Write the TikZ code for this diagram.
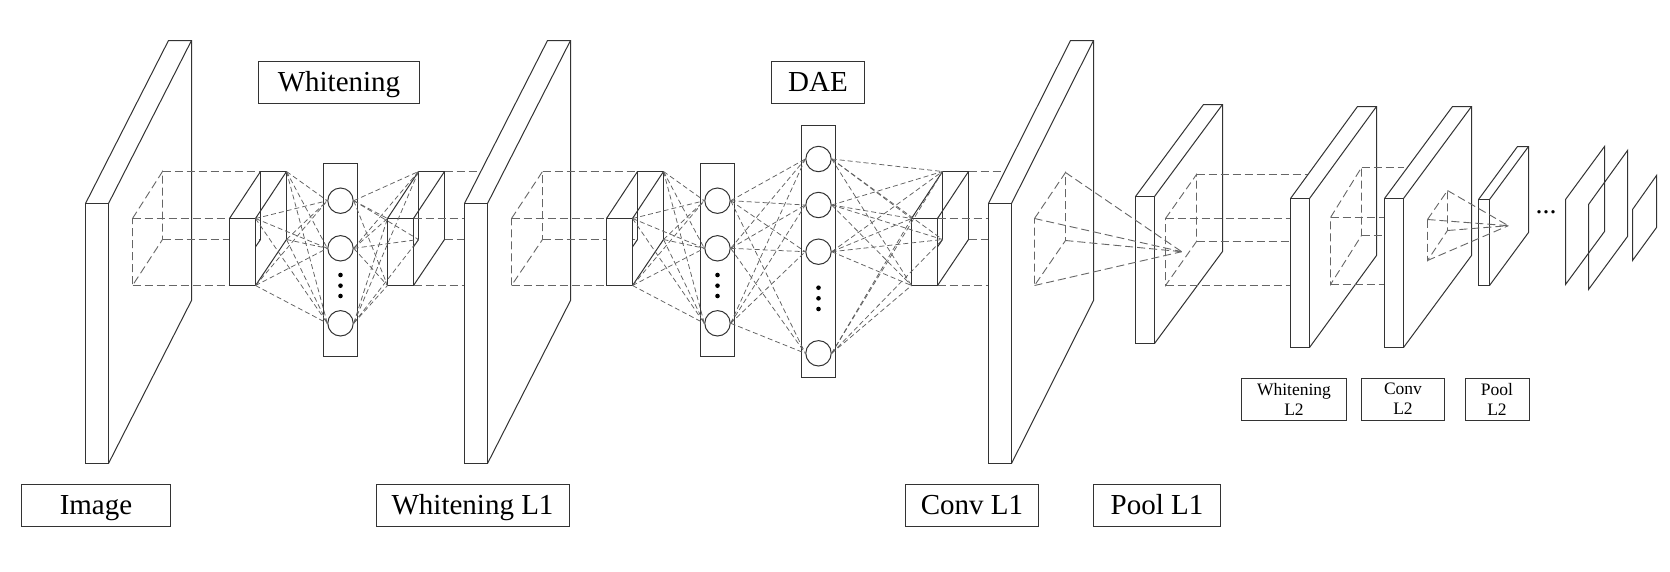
\documentclass[tikz,border=0pt]{standalone}
\usepackage{fontspec}
\setmainfont{Liberation Serif}
\usetikzlibrary{calc}
\tikzset{
  solidl/.style={draw=black!80, line width=1pt},
  dline/.style={draw=black!60, line width=0.9pt, dash pattern=on 8pt off 4pt},
  netl/.style={draw=black!62, line width=0.75pt, dash pattern=on 5pt off 3pt},
  neuron/.style={circle, draw=black!80, line width=1pt, fill=white, minimum size=25.4pt, inner sep=0pt},
  column/.style={rectangle, draw=black!80, line width=1pt, minimum width=34pt, inner sep=0pt},
  ndot/.style={circle, fill=black, inner sep=0pt, minimum size=4.6pt},
  bigl/.style={rectangle, draw=black!80, line width=1pt, inner sep=0pt, font=\fontsize{29}{34}\selectfont, text height=24pt, text depth=6.6pt, minimum height=42pt},
  smalll/.style={rectangle, draw=black!80, line width=1pt, inner sep=0pt, font=\fontsize{17.5}{20}\selectfont, align=center, minimum height=42pt}
}
\newcommand\mySlabDef[7]{%
  \coordinate (#1-ftl) at (#2,#4);
  \coordinate (#1-ftr) at (#3,#4);
  \coordinate (#1-fbl) at (#2,#5);
  \coordinate (#1-fbr) at (#3,#5);
  \coordinate (#1-btl) at (#2+#6,#4-#7);
  \coordinate (#1-btr) at (#3+#6,#4-#7);
  \coordinate (#1-bbr) at (#3+#6,#5-#7);
}
\newcommand\mySlabDraw[1]{%
  \fill[white] (#1-fbl) -- (#1-ftl) -- (#1-btl) -- (#1-btr) -- (#1-bbr) -- (#1-fbr) -- cycle;
  \draw[solidl] (#1-ftl) rectangle (#1-fbr);
  \draw[solidl] (#1-ftl) -- (#1-btl) -- (#1-btr) -- (#1-bbr) -- (#1-fbr);
  \draw[solidl] (#1-ftr) -- (#1-btr);
}
\newcommand\myCubeDef[2]{%
  \coordinate (#1-ftl) at (#2,218.5);
  \coordinate (#1-ftr) at (#2+26,218.5);
  \coordinate (#1-fbl) at (#2,285.5);
  \coordinate (#1-fbr) at (#2+26,285.5);
  \coordinate (#1-btl) at (#2+31,171.5);
  \coordinate (#1-btr) at (#2+57,171.5);
  \coordinate (#1-bbl) at (#2+31,239.5);
  \coordinate (#1-bbr) at (#2+57,239.5);
}
\newcommand\myCubeDraw[1]{%
  \draw[solidl] (#1-bbl) -- (#1-btl) -- (#1-btr) -- (#1-bbr);
  \draw[solidl] (#1-ftl) -- (#1-btl) (#1-ftr) -- (#1-btr) (#1-fbr) -- (#1-bbr) (#1-fbl) -- (#1-bbl);
  \filldraw[solidl, fill=white] (#1-ftl) rectangle (#1-fbr);
}
\newcommand\myPatch[7]{%
  \coordinate (#1-tl) at (#2,#4);
  \coordinate (#1-tr) at (#3,#5);
  \coordinate (#1-br) at (#3,#6);
  \coordinate (#1-bl) at (#2,#7);
  \draw[dline] (#1-tl) -- (#1-tr) -- (#1-br) -- (#1-bl) -- cycle;
}
\begin{document}
\begin{tikzpicture}[x=1pt,y=-1pt]
\useasboundingbox (0,0) rectangle (1670,571);
\fill[white] (0,0) rectangle (1670,571);

% slab coordinates
\mySlabDef{s1}{85.5}{108.5}{203.5}{463.5}{83}{163}
\mySlabDef{s2}{464.5}{487.5}{203.5}{463.5}{83}{163}
\mySlabDef{s3}{988.5}{1011.5}{203.5}{463.5}{82}{163}
\mySlabDef{s4}{1135.5}{1154.5}{196.5}{343.5}{68}{92}
\mySlabDef{s5}{1290.5}{1309.5}{198.5}{347.5}{67}{92}
\mySlabDef{s6}{1384.5}{1403.5}{198.5}{347.5}{68}{92}
\mySlabDef{s7}{1478.5}{1489.5}{199.5}{285.5}{39}{53}
\myCubeDef{cA}{229.5}
\myCubeDef{cB}{387.5}
\myCubeDef{cC}{606.5}
\myCubeDef{cD}{911.5}

% ---------- Image slab and whitening block ----------
\mySlabDraw{s1}
\myPatch{p1}{132.5}{162.5}{218.5}{171.5}{239.5}{285.5}
\draw[dline] (p1-tr) -- (cA-btl);
\draw[dline] (p1-tl) -- (cA-ftl);
\draw[dline] (p1-br) -- (cA-bbl);
\draw[dline] (p1-bl) -- (cA-fbl);
\myCubeDraw{cA}
\myCubeDraw{cB}

\node[column, minimum height=193pt] (wcol) at (340.5,260) {};
\node[neuron] (w1) at (340.5,200.7) {};
\node[neuron] (w2) at (340.5,248.3) {};
\node[neuron] (w3) at (340.5,323.3) {};
\node[ndot] (wd1) at (340.5,275) {};
\node[ndot] (wd2) at (340.5,285.7) {};
\node[ndot] (wd3) at (340.5,296) {};
\foreach \c in {cA-ftr,cA-fbr,cA-btr,cA-bbr}
  \foreach \n in {w1,w2,w3}
    \draw[netl] (\c) -- (\n.west);
\foreach \n in {w1,w2,w3}
  \foreach \c in {cB-ftl,cB-fbl,cB-btl,cB-bbl}
    \draw[netl] (\n.east) -- (\c);

\draw[dline] (cB-btr) -- (cB-btr -| s2-ftr);
\draw[dline] (cB-ftr) -- (cB-ftr -| s2-ftr);
\draw[dline] (cB-bbr) -- (cB-bbr -| s2-ftr);
\draw[dline] (cB-fbr) -- (cB-fbr -| s2-ftr);

% ---------- Whitening L1 slab and DAE block ----------
\mySlabDraw{s2}
\myPatch{p2}{511.5}{542.5}{218.5}{171.5}{239.5}{285.5}
\draw[dline] (p2-tr) -- (cC-btl);
\draw[dline] (p2-tl) -- (cC-ftl);
\draw[dline] (p2-br) -- (cC-bbl);
\draw[dline] (p2-bl) -- (cC-fbl);
\myCubeDraw{cC}
\myCubeDraw{cD}

\node[column, minimum height=193pt] (dcol) at (717.5,260) {};
\node[neuron] (d1) at (717.5,200.7) {};
\node[neuron] (d2) at (717.5,248.3) {};
\node[neuron] (d3) at (717.5,323.3) {};
\node[ndot] (dd1) at (717.5,275) {};
\node[ndot] (dd2) at (717.5,285.7) {};
\node[ndot] (dd3) at (717.5,296) {};

\node[column, minimum height=252pt] (hcol) at (818.5,251.5) {};
\node[neuron] (h1) at (818.5,159) {};
\node[neuron] (h2) at (818.5,205) {};
\node[neuron] (h3) at (818.5,251.7) {};
\node[neuron] (h4) at (818.5,353.3) {};
\node[ndot] (hd1) at (818.5,287.7) {};
\node[ndot] (hd2) at (818.5,298.3) {};
\node[ndot] (hd3) at (818.5,309) {};

\foreach \c in {cC-ftr,cC-fbr,cC-btr,cC-bbr}
  \foreach \n in {d1,d2,d3}
    \draw[netl] (\c) -- (\n.west);
\foreach \m in {d1,d2,d3}
  \foreach \n in {h1,h2,h3,h4}
    \draw[netl] (\m.east) -- (\n.west);
\foreach \n in {h1,h2,h3,h4}
  \foreach \c in {cD-ftl,cD-fbl,cD-btl,cD-bbl}
    \draw[netl] (\n.east) -- (\c);

\draw[dline] (cD-btr) -- (cD-btr -| s3-ftr);
\draw[dline] (cD-ftr) -- (cD-ftr -| s3-ftr);
\draw[dline] (cD-bbr) -- (cD-bbr -| s3-ftr);
\draw[dline] (cD-fbr) -- (cD-fbr -| s3-ftr);

% ---------- Conv L1 and Pool L1 ----------
\mySlabDraw{s3}
\myPatch{p3}{1034.5}{1065.5}{218.5}{172.5}{240.5}{285.5}
\mySlabDraw{s4}
\coordinate (P1) at (1181.7,251.7);
\draw[dline] (p3-tr) -- (P1);
\draw[dline] (p3-tl) -- (P1);
\draw[dline] (p3-br) -- (P1);
\draw[dline] (p3-bl) -- (P1);
\myPatch{p4}{1165.5}{1196.5}{218.5}{174.5}{241.5}{285.5}
\draw[dline] (p4-tr) -- (p4-tr -| s5-ftr);
\draw[dline] (p4-tl) -- (p4-tl -| s5-ftr);
\draw[dline] (p4-br) -- (p4-br -| s5-ftr);
\draw[dline] (p4-bl) -- (p4-bl -| s5-ftr);

% ---------- Whitening L2, Conv L2, Pool L2 ----------
\mySlabDraw{s5}
\myPatch{p5}{1330.5}{1361.5}{217.5}{167.5}{235.5}{284.5}
\draw[dline] (p5-tr) -- (p5-tr -| s6-ftr);
\draw[dline] (p5-tl) -- (p5-tl -| s6-ftr);
\draw[dline] (p5-br) -- (p5-br -| s6-ftr);
\draw[dline] (p5-bl) -- (p5-bl -| s6-ftr);
\mySlabDraw{s6}
\myPatch{p6}{1427.5}{1447.5}{219.5}{190.5}{230.5}{260.5}
\mySlabDraw{s7}
\coordinate (P2) at (1508.3,225.7);
\draw[dline] (p6-tr) -- (P2);
\draw[dline] (p6-tl) -- (P2);
\draw[dline] (p6-br) -- (P2);
\draw[dline] (p6-bl) -- (P2);

% ---------- further maps ----------
\node[anchor=base, inner sep=0pt, font=\fontsize{28}{30}\selectfont] (ell) at (1546,213.5) {...};
\draw[solidl] (1565.5,199.5) -- (1604.5,146.5) -- (1604.5,231.5) -- (1565.5,284.5) -- cycle;
\draw[solidl] (1588.5,204.5) -- (1627.5,150.5) -- (1627.5,236.5) -- (1588.5,289.5) -- cycle;
\draw[solidl] (1632.5,209.5) -- (1656.5,175.5) -- (1656.5,227.5) -- (1632.5,260.5) -- cycle;

% ---------- labels ----------
\node[bigl, minimum width=149pt] (limage) at (96,505.5) {Image};
\node[bigl, minimum width=193pt] (lwl1) at (472.5,505.5) {Whitening L1};
\node[bigl, minimum width=133pt] (lconv1) at (972,505.5) {Conv L1};
\node[bigl, minimum width=127pt] (lpool1) at (1157,505.5) {Pool L1};
\node[bigl, minimum width=161pt] (lwhite) at (339,82.5) {Whitening};
\node[bigl, minimum width=93pt] (ldae) at (818,82.5) {DAE};
\node[smalll, minimum width=105pt] (lwl2) at (1294,399) {Whitening\\L2};
\node[smalll, minimum width=83pt] (lconv2) at (1403,399) {Conv\\L2};
\node[smalll, minimum width=64pt] (lpool2) at (1497,399) {Pool\\L2};
\end{tikzpicture}
\end{document}
